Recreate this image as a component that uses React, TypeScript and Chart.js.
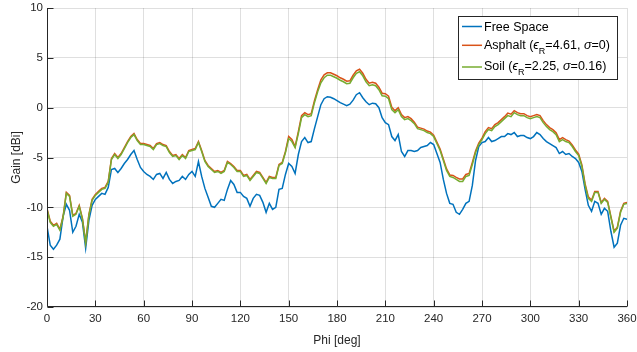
import React, { useEffect, useRef } from "react";
import { Chart, registerables } from "chart.js";

Chart.register(...registerables);

const phi = [
  0, 2, 4, 6, 8, 10, 12, 14, 16, 18, 20, 22, 24, 26, 28, 30, 32, 34, 36, 38,
  40, 42, 44, 46, 48, 50, 52, 54, 56, 58, 60, 62, 64, 66, 68, 70, 72, 74, 76, 78,
  80, 82, 84, 86, 88, 90, 92, 94, 96, 98, 100, 102, 104, 106, 108, 110, 112, 114, 116, 118,
  120, 122, 124, 126, 128, 130, 132, 134, 136, 138, 140, 142, 144, 146, 148, 150, 152, 154, 156, 158,
  160, 162, 164, 166, 168, 170, 172, 174, 176, 178, 180, 182, 184, 186, 188, 190, 192, 194, 196, 198,
  200, 202, 204, 206, 208, 210, 212, 214, 216, 218, 220, 222, 224, 226, 228, 230, 232, 234, 236, 238,
  240, 242, 244, 246, 248, 250, 252, 254, 256, 258, 260, 262, 264, 266, 268, 270, 272, 274, 276, 278,
  280, 282, 284, 286, 288, 290, 292, 294, 296, 298, 300, 302, 304, 306, 308, 310, 312, 314, 316, 318,
  320, 322, 324, 326, 328, 330, 332, 334, 336, 338, 340, 342, 344, 346, 348, 350, 352, 354, 356, 358,
  360,
];

const freeSpace = [
  -11.9, -13.8, -14.2, -13.8, -13.2, -10.9, -9.7, -10.3, -12.5, -11.9, -10.7, -11.5, -14.1, -11.3, -9.8, -9.2, -8.9, -8.6, -8.7, -8.0,
  -6.2, -6.1, -6.5, -6.1, -5.6, -5.2, -4.7, -4.3, -5.2, -6.0, -6.4, -6.7, -6.9, -7.2, -6.7, -6.6, -7.1, -6.5, -7.2, -7.6,
  -7.4, -7.3, -6.9, -7.2, -6.7, -6.4, -6.9, -5.4, -6.9, -8.1, -9.0, -9.9, -10.0, -9.6, -9.2, -9.3, -8.2, -7.3, -7.7, -8.5,
  -8.5, -8.9, -9.1, -9.9, -9.1, -8.7, -8.8, -9.5, -10.5, -9.6, -10.2, -10.0, -8.2, -8.1, -6.7, -5.6, -5.9, -6.6, -4.7, -3.4,
  -3.0, -3.5, -3.4, -2.1, -0.9, 0.3, 0.9, 1.1, 1.05, 0.9, 0.7, 0.5, 0.35, 0.2, 0.35, 0.75, 1.3, 1.5, 1.0, 0.6,
  0.3, 0.45, 0.4, 0.0, -1.0, -1.5, -1.7, -2.9, -3.3, -2.7, -4.4, -4.9, -4.3, -4.3, -4.4, -4.3, -4.0, -3.9, -3.8, -3.5,
  -3.7, -4.6, -5.5, -7.2, -8.6, -9.6, -9.7, -10.5, -10.7, -10.2, -9.6, -9.4, -7.8, -5.3, -3.9, -3.5, -3.4, -3.0, -3.4, -3.3,
  -3.1, -2.9, -2.9, -2.6, -2.7, -2.5, -2.9, -2.8, -2.8, -3.0, -3.1, -2.9, -2.5, -2.7, -3.1, -3.4, -3.6, -3.8, -4.0, -4.6,
  -4.4, -4.7, -4.6, -4.9, -5.1, -5.5, -6.4, -8.2, -9.8, -10.4, -9.4, -9.6, -10.7, -10.1, -10.4, -12.4, -14.0, -13.6, -11.8, -11.1,
  -11.2,
];

const asphalt = [
  -10.1, -11.4, -11.8, -11.6, -12.2, -10.9, -8.5, -8.8, -10.8, -10.6, -9.8, -11.1, -13.5, -10.7, -9.2, -8.7, -8.4, -8.1, -8.0, -7.4,
  -5.1, -4.6, -5.0, -4.6, -4.0, -3.4, -2.9, -2.6, -3.2, -3.6, -3.6, -3.7, -3.8, -4.1, -3.6, -3.5, -3.7, -3.8, -4.4, -4.8,
  -4.7, -5.1, -4.7, -5.0, -4.3, -4.2, -4.1, -3.4, -4.3, -5.3, -5.8, -6.1, -6.4, -6.3, -6.5, -6.3, -5.4, -5.6, -5.9, -6.3,
  -6.3, -6.8, -6.7, -7.2, -6.8, -6.4, -6.5, -7.0, -7.5, -6.9, -7.0, -7.0, -5.7, -5.5, -4.4, -2.9, -3.2, -3.9, -2.4, -0.8,
  -0.5, -0.7, -0.6, 0.7, 1.8, 2.8, 3.3, 3.5, 3.5, 3.35, 3.2, 3.0, 2.85, 2.65, 2.7, 3.25, 3.7, 3.85, 3.45, 2.85,
  2.45, 2.55, 2.45, 2.05, 1.45, 1.4, 1.15, 0.05, -0.3, 0.0, -0.7, -1.0, -0.9, -1.1, -1.45, -1.95, -2.05, -2.15, -2.35, -2.45,
  -2.75, -3.45, -4.15, -5.15, -6.15, -6.75, -6.8, -7.0, -7.15, -7.15, -6.7, -6.6, -5.5, -4.35, -3.55, -3.05, -2.4, -2.0, -2.1, -1.7,
  -1.5, -1.2, -0.9, -0.55, -0.65, -0.3, -0.5, -0.6, -0.6, -0.8, -0.9, -0.8, -0.7, -0.8, -1.3, -1.7, -2.0, -2.2, -2.5, -3.2,
  -3.0, -3.2, -3.35, -3.75, -4.25, -4.65, -5.75, -7.65, -8.95, -9.3, -8.4, -8.4, -9.5, -9.1, -9.4, -10.9, -12.4, -12.0, -10.4, -9.6,
  -9.5,
];

const soil = [
  -10.2, -11.5, -11.9, -11.7, -12.3, -11.0, -8.6, -8.9, -10.9, -10.7, -9.9, -11.2, -13.6, -10.8, -9.3, -8.8, -8.5, -8.2, -8.1, -7.5,
  -5.2, -4.7, -5.1, -4.7, -4.1, -3.5, -3.0, -2.7, -3.3, -3.7, -3.7, -3.8, -3.9, -4.2, -3.7, -3.6, -3.8, -3.9, -4.5, -4.9,
  -4.8, -5.2, -4.8, -5.1, -4.4, -4.3, -4.2, -3.5, -4.4, -5.4, -5.9, -6.2, -6.5, -6.4, -6.6, -6.4, -5.5, -5.7, -6.0, -6.4,
  -6.4, -6.9, -6.8, -7.3, -6.9, -6.5, -6.6, -7.1, -7.6, -7.0, -7.1, -7.1, -5.8, -5.6, -4.5, -3.1, -3.4, -4.0, -2.6, -1.0,
  -0.7, -0.9, -0.8, 0.5, 1.6, 2.5, 3.0, 3.25, 3.25, 3.1, 2.95, 2.75, 2.6, 2.4, 2.45, 3.0, 3.45, 3.6, 3.2, 2.6,
  2.2, 2.3, 2.2, 1.8, 1.2, 1.15, 0.9, -0.2, -0.5, -0.2, -0.9, -1.2, -1.1, -1.3, -1.6, -2.1, -2.2, -2.3, -2.5, -2.6,
  -2.9, -3.6, -4.3, -5.3, -6.3, -6.9, -7.0, -7.2, -7.4, -7.4, -6.9, -6.8, -5.7, -4.5, -3.7, -3.2, -2.6, -2.2, -2.3, -1.9,
  -1.7, -1.4, -1.1, -0.8, -0.9, -0.5, -0.7, -0.8, -0.8, -1.0, -1.1, -1.0, -0.9, -1.0, -1.5, -1.9, -2.2, -2.4, -2.7, -3.4,
  -3.2, -3.4, -3.5, -3.9, -4.4, -4.8, -5.9, -7.8, -9.1, -9.4, -8.5, -8.5, -9.6, -9.2, -9.5, -11.0, -12.5, -12.1, -10.5, -9.7,
  -9.6,
];

const xTicks = [0, 30, 60, 90, 120, 150, 180, 210, 240, 270, 300, 330, 360];
const yTicks = [-20, -15, -10, -5, 0, 5, 10];

const COLORS = { free: "#0072BD", asphalt: "#D95319", soil: "#77AC30" };
const AXIS = "#262626";
const FONT = "'Liberation Sans', Arial, 'DejaVu Sans', sans-serif";

const axesPlugin = {
  id: "matlabAxes",
  afterDatasetsDraw(chart: any) {
    const { ctx, chartArea, scales } = chart;
    const { left, right, top, bottom } = chartArea;
    ctx.save();
    ctx.strokeStyle = AXIS;
    ctx.lineWidth = 1;
    ctx.beginPath();
    const lx = Math.round(left) + 0.5;
    const by = Math.round(bottom) - 0.5;
    ctx.moveTo(lx, top);
    ctx.lineTo(lx, by);
    ctx.lineTo(right, by);
    for (const t of xTicks) {
      const x = Math.round(scales.x.getPixelForValue(t)) + 0.5;
      ctx.moveTo(x, by);
      ctx.lineTo(x, by - 6);
    }
    for (const t of yTicks) {
      const y = Math.round(scales.y.getPixelForValue(t)) + 0.5;
      ctx.moveTo(lx, y);
      ctx.lineTo(lx + 6, y);
    }
    ctx.stroke();
    ctx.restore();
  },
};

const legendItems = [
  { color: COLORS.free, parts: [{ t: "Free Space" }], base: 31.3, lineY: 26.5 },
  {
    color: COLORS.asphalt,
    parts: [{ t: "Asphalt (" }, { t: "\u03f5", it: true }, { t: "R", sub: true }, { t: "=4.61, " }, { t: "\u03c3", it: true }, { t: "=0)" }],
    base: 48.7,
    lineY: 45.3,
  },
  {
    color: COLORS.soil,
    parts: [{ t: "Soil (" }, { t: "\u03f5", it: true }, { t: "R", sub: true }, { t: "=2.25, " }, { t: "\u03c3", it: true }, { t: "=0.16)" }],
    base: 69.7,
    lineY: 67,
  },
];

const legendPlugin = {
  id: "matlabLegend",
  afterDraw(chart: any) {
    const { ctx } = chart;
    ctx.save();
    ctx.fillStyle = "#ffffff";
    ctx.fillRect(458, 16, 160, 64);
    ctx.strokeStyle = AXIS;
    ctx.lineWidth = 1;
    ctx.strokeRect(458.5, 16.5, 159, 63);
    for (const item of legendItems) {
      ctx.strokeStyle = item.color;
      ctx.lineWidth = 1.5;
      ctx.beginPath();
      ctx.moveTo(462, item.lineY);
      ctx.lineTo(482, item.lineY);
      ctx.stroke();
      let x = 484;
      ctx.fillStyle = "#000000";
      ctx.textBaseline = "alphabetic";
      ctx.textAlign = "left";
      for (const p of item.parts as any[]) {
        if (p.sub) {
          ctx.font = `9px ${FONT}`;
          ctx.fillText(p.t, x, item.base + 5);
        } else if (p.it) {
          ctx.font = `italic 12.5px ${FONT}`;
          ctx.fillText(p.t, x, item.base);
        } else {
          ctx.font = `12.5px ${FONT}`;
          ctx.fillText(p.t, x, item.base);
        }
        x += ctx.measureText(p.t).width;
      }
    }
    ctx.restore();
  },
};

export default function App() {
  const ref = useRef<HTMLCanvasElement | null>(null);
  useEffect(() => {
    if (!ref.current) return;
    const mk = (arr: number[]) => phi.map((p, i) => ({ x: p, y: arr[i] }));
    const chart = new Chart(ref.current, {
      type: "line",
      data: {
        datasets: [
          { label: "Free Space", data: mk(freeSpace), borderColor: COLORS.free, borderWidth: 1.5, pointRadius: 0, tension: 0, order: 2 },
          { label: "Asphalt", data: mk(asphalt), borderColor: COLORS.asphalt, borderWidth: 1.5, pointRadius: 0, tension: 0, order: 1 },
          { label: "Soil", data: mk(soil), borderColor: COLORS.soil, borderWidth: 1.5, pointRadius: 0, tension: 0, order: 0 },
        ],
      },
      options: {
        animation: false,
        responsive: false,
        devicePixelRatio: 1,
        layout: { padding: { top: 8, right: 10, left: 0, bottom: 0 } },
        plugins: { legend: { display: false }, tooltip: { enabled: false } },
        scales: {
          x: {
            type: "linear",
            min: 0,
            max: 360,
            afterFit: (s: any) => { s.height = 45; s.paddingLeft = 0; s.paddingRight = 0; },
            afterBuildTicks: (s: any) => { s.ticks = xTicks.map((v) => ({ value: v })); },
            ticks: { color: AXIS, font: { family: FONT, size: 11.5 }, padding: 5, maxRotation: 0, autoSkip: false },
            grid: { color: "rgba(38,38,38,0.15)", drawTicks: false, lineWidth: 1 },
            border: { display: false },
            title: { display: true, text: "Phi [deg]", color: AXIS, font: { family: FONT, size: 12 }, padding: { top: 0, bottom: 4 } },
          },
          y: {
            type: "linear",
            min: -20,
            max: 10,
            afterFit: (s: any) => { s.width = 47; s.paddingTop = 0; s.paddingBottom = 0; },
            afterBuildTicks: (s: any) => { s.ticks = yTicks.map((v) => ({ value: v })); },
            ticks: { color: AXIS, font: { family: FONT, size: 11.5 }, padding: 4 },
            grid: { color: "rgba(38,38,38,0.15)", drawTicks: false, lineWidth: 1 },
            border: { display: false },
            title: { display: true, text: "Gain [dBi]", color: AXIS, font: { family: FONT, size: 12 }, padding: { top: 9, bottom: 0 } },
          },
        },
      },
      plugins: [axesPlugin, legendPlugin],
    });
    return () => chart.destroy();
  }, []);
  return (
    <div style={{ position: "absolute", left: 0, top: 0, width: 637, height: 352, background: "#fff" }}>
      <canvas ref={ref} width={637} height={352} />
    </div>
  );
}
